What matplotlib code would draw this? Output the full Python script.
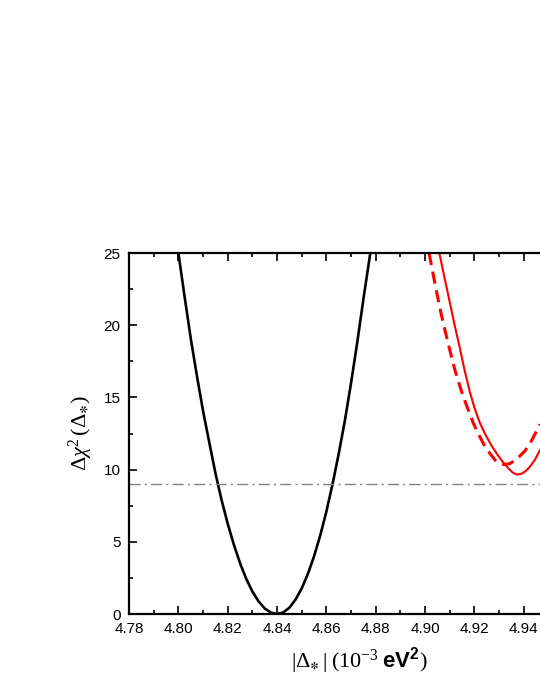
import numpy as np
import matplotlib.pyplot as plt
from matplotlib.ticker import MultipleLocator

plt.rcParams['font.family'] = ['Liberation Sans', 'DejaVu Sans']
plt.rcParams['mathtext.fontset'] = 'custom'
plt.rcParams['mathtext.rm'] = 'Liberation Serif'
plt.rcParams['mathtext.it'] = 'Liberation Serif:italic'
plt.rcParams['mathtext.bf'] = 'Liberation Sans:bold'
plt.rcParams['mathtext.fallback'] = 'stix'

# black curve
x_black = [4.800, 4.8025, 4.805, 4.8075, 4.810, 4.8125, 4.815, 4.8175, 4.820, 4.8225,
           4.825, 4.8275, 4.830, 4.8325, 4.835, 4.8375, 4.840, 4.8425, 4.845, 4.8475,
           4.850, 4.8525, 4.855, 4.8575, 4.860, 4.8625, 4.865, 4.8675, 4.870, 4.8725,
           4.875, 4.8778]
y_black = [25.0, 22.0, 19.1, 16.5, 14.06, 11.9, 9.77, 7.9, 6.25, 4.8,
           3.52, 2.44, 1.56, 0.88, 0.39, 0.10, 0.0, 0.11, 0.44, 1.0,
           1.78, 2.78, 4.0, 5.44, 7.1, 9.0, 11.1, 13.4, 16.0, 18.8,
           21.8, 25.0]

# red solid curve
x_red = [4.9058, 4.9080, 4.9100, 4.9120, 4.9140, 4.9160, 4.9182, 4.9200, 4.9223,
         4.9247, 4.9270, 4.9294, 4.9317, 4.9340, 4.9355, 4.9372, 4.9390, 4.9408,
         4.9425, 4.9446, 4.9466]
y_red = [25.0, 23.2, 21.6, 20.0, 18.5, 16.9, 15.35, 14.3, 13.2,
         12.35, 11.65, 11.02, 10.5, 10.05, 9.8, 9.66, 9.7, 9.9,
         10.2, 10.7, 11.36]

# red dashed curve
x_dash = [4.9016, 4.9040, 4.9060, 4.9080, 4.9100, 4.9121, 4.9138, 4.9155, 4.9176,
          4.9196, 4.9220, 4.9243, 4.9264, 4.9284, 4.9300, 4.9320, 4.9344, 4.9365,
          4.9385, 4.9405, 4.9430, 4.9453, 4.9466]
y_dash = [25.0, 22.9, 21.2, 19.7, 18.3, 16.9, 15.95, 15.05, 14.1,
          13.2, 12.35, 11.59, 11.1, 10.66, 10.45, 10.35, 10.42, 10.65,
          10.95, 11.3, 11.95, 12.7, 13.15]

ref_level = 9.0

fig = plt.figure(figsize=(5.4, 6.98), dpi=100)
ax = fig.add_axes([0.239, 0.1203, 0.761, 0.5172])

ax.plot(x_black, y_black, color='black', lw=1.9)
ax.plot(x_red, y_red, color='red', lw=1.5)
ax.plot(x_dash, y_dash, color='red', lw=2.2, ls=(0, (4, 2.2)))
ax.axhline(ref_level, color='#808080', lw=1.0, ls='-.', dashes=(8, 3, 1.5, 3))

ax.set_xlim(4.78, 4.9466)
ax.set_ylim(0, 25)
ax.xaxis.set_major_locator(MultipleLocator(0.02))
ax.xaxis.set_minor_locator(MultipleLocator(0.01))
ax.yaxis.set_major_locator(MultipleLocator(5))
ax.yaxis.set_minor_locator(MultipleLocator(2.5))
ax.xaxis.set_major_formatter(plt.FormatStrFormatter('%.2f'))

ax.tick_params(which='both', direction='in', top=True, right=False, width=1.2, labelsize=11)
ax.tick_params(which='major', length=5.5, pad=6)
ax.tick_params(which='minor', length=3)
for s in ['left', 'bottom', 'top']:
    ax.spines[s].set_linewidth(1.6)
ax.spines['right'].set_visible(False)

ax.set_xlabel(r'$|\Delta_{\boldsymbol{\ast}}\,|\;(10^{-3}\;\mathbf{eV^2})$', fontsize=16)
ax.xaxis.set_label_coords(0.56, -0.085)
ax.set_ylabel(r'$\Delta\chi^2\,(\Delta_{\boldsymbol{\ast}})$', fontsize=16, labelpad=6)

fig.savefig('out.png', dpi=100)
